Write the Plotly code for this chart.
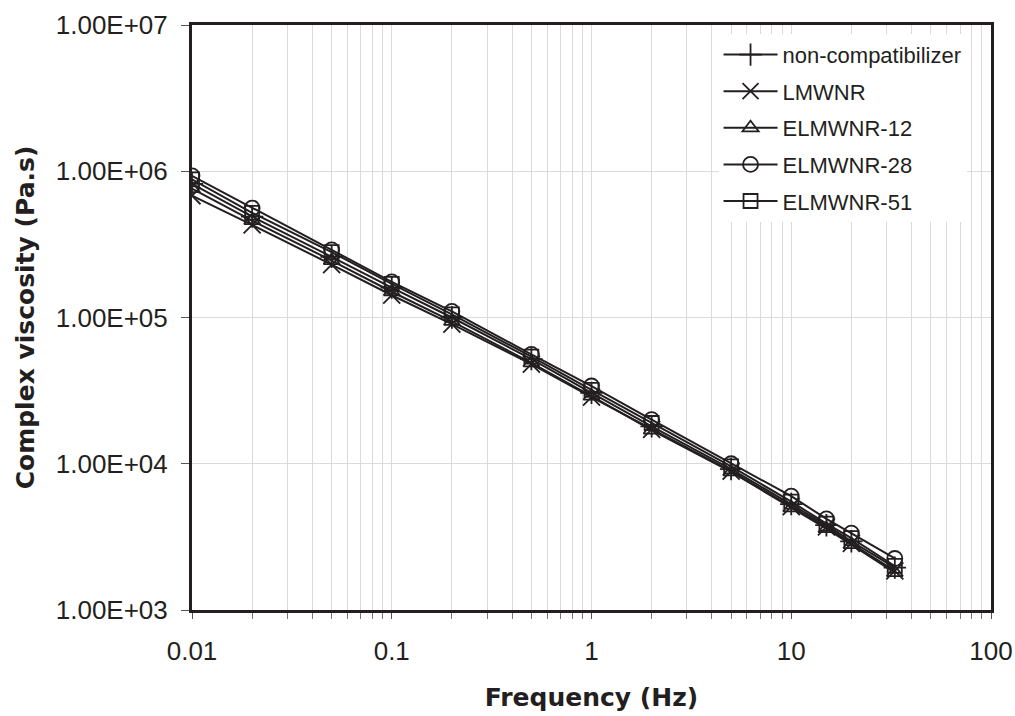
import plotly.graph_objects as go

# ---- data ----
freq = [0.01, 0.02, 0.05, 0.1, 0.2, 0.5, 1, 2, 5, 10, 15, 20, 33]

non_compatibilizer = [8.2e5, 4.9e5, 2.6e5, 1.6e5, 1.0e5, 5.2e4, 3.05e4, 1.8e4, 9.2e3, 5.3e3, 3.8e3, 2.95e3, 1.95e3]
lmwnr = [6.8e5, 4.3e5, 2.3e5, 1.42e5, 9.0e4, 4.8e4, 2.85e4, 1.72e4, 8.9e3, 5.1e3, 3.7e3, 2.85e3, 1.85e3]
elmwnr_12 = [7.6e5, 4.6e5, 2.45e5, 1.5e5, 9.4e4, 4.9e4, 2.9e4, 1.7e4, 8.8e3, 5.0e3, 3.6e3, 2.8e3, 1.8e3]
elmwnr_28 = [9.3e5, 5.6e5, 2.9e5, 1.75e5, 1.1e5, 5.6e4, 3.4e4, 2.0e4, 1.0e4, 6.0e3, 4.2e3, 3.35e3, 2.25e3]
elmwnr_51 = [8.8e5, 5.2e5, 2.8e5, 1.7e5, 1.05e5, 5.4e4, 3.2e4, 1.9e4, 9.6e3, 5.5e3, 3.9e3, 3.1e3, 2.0e3]

series_names = ["non-compatibilizer", "LMWNR", "ELMWNR-12", "ELMWNR-28", "ELMWNR-51"]
series_values = [non_compatibilizer, lmwnr, elmwnr_12, elmwnr_28, elmwnr_51]

x_tickvals = [0.01, 0.1, 1, 10, 100]
x_ticktext = ["0.01", "0.1", "1", "10", "100"]
y_tickvals = [1e3, 1e4, 1e5, 1e6, 1e7]
y_ticktext = ["1.00E+03", "1.00E+04", "1.00E+05", "1.00E+06", "1.00E+07"]
x_minor = [m * d for d in [0.01, 0.1, 1, 10] for m in range(2, 10)]

# ---- styles ----
INK = "#231f20"
GRID = "#dadada"
symbols = ["cross-thin-open", "x-thin-open", "triangle-up-open", "circle-open", "square-open"]
sizes = [16, 17, 14, 15, 14]

fig = go.Figure()
for name, vals, sym, sz in zip(series_names, series_values, symbols, sizes):
    fig.add_trace(go.Scatter(
        x=freq, y=vals, name=name, legendgroup=name,
        mode="lines+markers",
        line=dict(color=INK, width=2),
        marker=dict(symbol=sym, size=sz, color=INK, line=dict(color=INK, width=1.8)),
    ))

tick_font = dict(family="Liberation Sans, Arial", size=26, color=INK)
title_font = dict(family="DejaVu Sans, Arial", size=25, color=INK)

fig.update_xaxes(
    type="log", range=[-2, 2], automargin=False,
    tickvals=x_tickvals, ticktext=x_ticktext,
    ticks="outside", ticklen=6, tickwidth=1, tickcolor="#555",
    ticklabelstandoff=10,
    showline=True, mirror=True, linewidth=3, linecolor=INK,
    showgrid=True, gridcolor=GRID, gridwidth=1,
    minor=dict(tickvals=x_minor, ticks="outside", ticklen=6, tickwidth=1, tickcolor="#777",
               showgrid=True, gridcolor=GRID, gridwidth=1),
    tickfont=tick_font,
    title=dict(text="<b>Frequency (Hz)</b>", font=title_font, standoff=24),
    zeroline=False,
)
fig.update_yaxes(
    type="log", range=[3, 7], automargin=False,
    tickvals=y_tickvals, ticktext=y_ticktext,
    ticks="outside", ticklen=8, tickwidth=1, tickcolor="#555",
    ticklabelstandoff=8,
    showline=True, mirror=True, linewidth=3, linecolor=INK,
    showgrid=True, gridcolor=GRID, gridwidth=1,
    tickfont=tick_font,
    title=dict(text="<b>Complex viscosity (Pa.s)</b>", font=title_font, standoff=14),
    zeroline=False,
)

fig.update_layout(
    width=1015, height=716,
    margin=dict(l=192, r=24, t=25, b=106),
    plot_bgcolor="white", paper_bgcolor="white",
    showlegend=True,
    legend=dict(
        x=0.659, y=0.985, xanchor="left", yanchor="top",
        bgcolor="white", borderwidth=0,
        font=dict(family="Liberation Sans, Arial", size=22, color=INK),
        tracegroupgap=5, itemwidth=54,
    ),
)

fig.write_html("out.html")
